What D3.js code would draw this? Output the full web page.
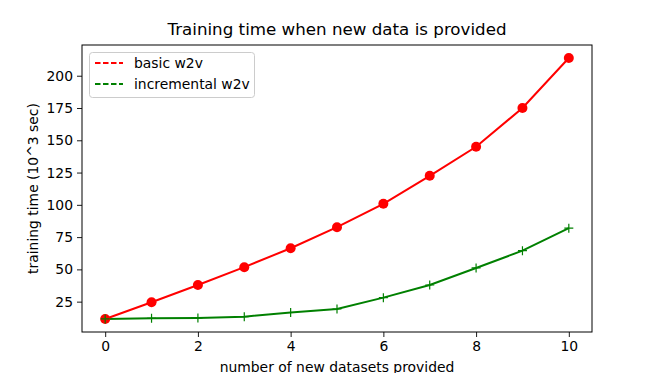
<!DOCTYPE html>
<html>
<head>
<meta charset="utf-8">
<script src="https://cdn.jsdelivr.net/npm/d3@7"></script>
<style>
  body { margin: 0; background: #fff; }
  text { font-family: "DejaVu Sans", sans-serif; fill: #000; }
</style>
</head>
<body>
<svg id="chart" width="658" height="373"></svg>
<script>
//data
var datasets = [0, 1, 2, 3, 4, 5, 6, 7, 8, 9, 10];
var basicTimes = [11.6, 24.5, 37.9, 51.7, 66.4, 82.7, 100.8, 122.5, 145.0, 175.0, 213.7];
var incrementalTimes = [11.6, 12.1, 12.4, 13.4, 16.6, 19.3, 28.1, 37.9, 51.1, 64.5, 81.9];
var xTicks = [0, 2, 4, 6, 8, 10];
var yTicks = [25, 50, 75, 100, 125, 150, 175, 200];
var seriesNames = ["basic w2v", "incremental w2v"];

var svg = d3.select("#chart");

//plot area (avoid "top" - it clashes with window.top)
var plotLeft = 82, plotRight = 592, plotTop = 45, plotBottom = 332;

//x scale with matplotlib style margins
var x = d3.scaleLinear().domain([-0.5, 10.5]).range([plotLeft, plotRight]);

//y scale, 5% padding around the data
var allVals = basicTimes.concat(incrementalTimes);
var yMin = d3.min(allVals), yMax = d3.max(allVals);
var pad = (yMax - yMin) * 0.05;
var y = d3.scaleLinear().domain([yMin - pad, yMax + pad]).range([plotBottom, plotTop]);

//axes
var xAxis = svg.append("g")
    .attr("transform", "translate(0," + plotBottom + ")")
    .call(d3.axisBottom(x).tickValues(xTicks).tickSize(5).tickPadding(4).tickFormat(d3.format("d")));
var yAxis = svg.append("g")
    .attr("transform", "translate(" + plotLeft + ",0)")
    .call(d3.axisLeft(y).tickValues(yTicks).tickSize(5).tickPadding(4).tickFormat(d3.format("d")));
[xAxis, yAxis].forEach(function(a){
    a.select(".domain").remove();
    a.selectAll("text").style("font-size", "13.9px").style("font-family", "DejaVu Sans").attr("fill", "#000");
    a.selectAll("line").attr("stroke", "#000").attr("stroke-width", 0.9);
});

//frame
svg.append("rect")
    .attr("x", plotLeft).attr("y", plotTop)
    .attr("width", plotRight - plotLeft).attr("height", plotBottom - plotTop)
    .attr("fill", "none").attr("stroke", "#000").attr("stroke-width", 1);

//line generator
var line = d3.line()
    .x(function(d, i){ return x(datasets[i]); })
    .y(function(d){ return y(d); });

//incremental series (green, plus markers)
svg.append("path")
    .datum(incrementalTimes)
    .attr("d", line)
    .attr("fill", "none").attr("stroke", "green").attr("stroke-width", 2);

//basic series (red, circle markers)
svg.append("path")
    .datum(basicTimes)
    .attr("d", line)
    .attr("fill", "none").attr("stroke", "red").attr("stroke-width", 2);

svg.selectAll(".dot")
    .data(basicTimes)
    .enter().append("circle")
    .attr("cx", function(d, i){ return x(datasets[i]); })
    .attr("cy", function(d){ return y(d); })
    .attr("r", 5)
    .attr("fill", "red");

svg.selectAll(".plus")
    .data(incrementalTimes)
    .enter().append("path")
    .attr("d", function(d, i){
        var cx = x(datasets[i]), cy = y(d), s = 4.5;
        return "M" + (cx - s) + "," + cy + "H" + (cx + s) + "M" + cx + "," + (cy - s) + "V" + (cy + s);
    })
    .attr("stroke", "green").attr("stroke-width", 1.2);

//title and axis labels
svg.append("text")
    .attr("x", (plotLeft + plotRight) / 2).attr("y", 35)
    .attr("text-anchor", "middle")
    .style("font-size", "16.7px")
    .text("Training time when new data is provided");

svg.append("text")
    .attr("x", (plotLeft + plotRight) / 2).attr("y", 372)
    .attr("text-anchor", "middle")
    .style("font-size", "13.9px")
    .text("number of new datasets provided");

svg.append("text")
    .attr("transform", "translate(38," + ((plotTop + plotBottom) / 2) + ") rotate(-90)")
    .attr("text-anchor", "middle")
    .style("font-size", "13.9px")
    .text("training time (10^3 sec)");

//legend
var legend = svg.append("g");
legend.append("rect")
    .attr("x", 89.5).attr("y", 52.5)
    .attr("width", 165).attr("height", 45)
    .attr("rx", 3)
    .attr("fill", "#fff").attr("fill-opacity", 0.8)
    .attr("stroke", "#ccc");
var colors = ["red", "green"];
seriesNames.forEach(function(name, i){
    var ly = 63 + i * 21;
    legend.append("line")
        .attr("x1", 95).attr("x2", 123)
        .attr("y1", ly).attr("y2", ly)
        .attr("stroke", colors[i]).attr("stroke-width", 2)
        .attr("stroke-dasharray", "5.5,2.5");
    legend.append("text")
        .attr("x", 134).attr("y", ly + 5)
        .style("font-size", "13.9px")
        .text(name);
});
</script>
</body>
</html>
